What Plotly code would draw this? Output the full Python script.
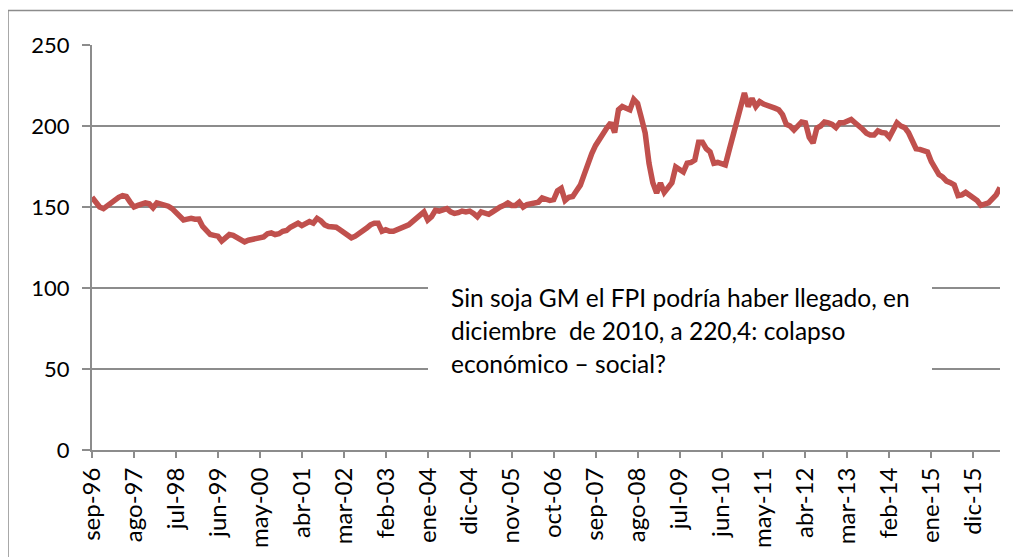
import plotly.graph_objects as go

MONTHS = ["ene", "feb", "mar", "abr", "may", "jun", "jul", "ago", "sep", "oct", "nov", "dic"]

# Monthly values, sep-96 .. jul-16
values = [
    156, 153, 150, 149, 151, 152.5, 154, 156, 157, 156.5, 153, 150,
    151, 151.5, 152.5, 152, 149.5, 152.5, 152, 151, 150.5, 149, 147, 145,
    142, 142.5, 143, 142.5, 142.6, 138, 135, 133, 132.5, 132, 129, 131.5,
    133, 132.5, 131, 129.5, 128.5, 129.5, 130, 130.5, 131, 131.5, 133.5, 134,
    133, 133.5, 135, 135.5, 137.5, 139, 140, 138.5, 139.5, 141, 140, 143,
    141.5, 139, 138, 138, 137.5, 136, 134.5, 133.5, 131, 132, 133.5, 134.5,
    137, 139, 140, 140, 135, 136, 135, 135, 136, 137, 137.5, 139,
    141, 143.5, 145, 147, 142, 144, 148, 147.5, 148, 149, 147, 146,
    146.5, 147.5, 147, 147.5, 146, 144, 147, 146, 145.5, 147, 149, 150,
    151, 152.5, 151, 151, 153, 150, 151.5, 152, 152, 153, 155.6, 155,
    154, 154.5, 160, 161.5, 154, 156, 156.5, 160, 163.5, 170, 177, 183,
    188, 192, 195, 199, 202, 196, 210, 212, 211, 210, 216.5, 214,
    205, 195.6, 177, 165, 158.6, 164.8, 159, 162, 165, 174.7, 173, 171.6,
    177, 177.5, 179, 190, 190, 186, 184, 177, 177.5, 177, 176, 185,
    194, 205, 212, 220.4, 212, 217, 212, 215, 213.6, 213, 212, 211,
    210, 207, 201, 200, 197.5, 200, 202.5, 202, 193, 189.5, 198.7, 200,
    202.5, 202, 201, 199, 202, 202, 203, 204, 202, 200.5, 198, 195.6,
    194.5, 194.4, 197, 196, 195.6, 193, 198, 202, 200, 199, 196, 190,
    186, 185.6, 185, 184, 178, 174.7, 170, 168.5, 166, 165, 163.6, 157,
    157.5, 159, 157.5, 155.6, 154, 151, 151.5, 152.5, 155, 157.5, 162,
]

start_year, start_month = 1996, 9
labels = []
for k in range(len(values)):
    m = (start_month - 1 + k) % 12
    y = start_year + (start_month - 1 + k) // 12
    labels.append(f"{MONTHS[m]}-{y % 100:02d}")

idx = list(range(len(values)))
tick_idx = idx[::11]
tick_text = [labels[i] for i in tick_idx]

y_ticks = [0, 50, 100, 150, 200, 250]

note_lines = [
    "Sin soja GM el FPI podría haber llegado, en",
    "diciembre  de 2010, a 220,4: colapso",
    "económico – social?",
]

FONT = "Lato"
GRID = "#8c8c8c"

fig = go.Figure()
fig.add_trace(go.Scatter(
    x=idx, y=values, mode="lines",
    line=dict(color="#C0504D", width=5.5),
    hovertext=labels, showlegend=False,
))

# page body has an 8px margin: work in screen pixels, convert to figure pixels
OFF = 8
W, H = 1021 - OFF, 557 - OFF
L, R, T, B = 92 - OFF, 1000 - OFF, 45 - OFF, 450 - OFF
pw, ph = R - L, B - T

def px(xs):
    return (xs - OFF - L) / pw

def py(ys):
    return (B - (ys - OFF)) / ph

fig.update_layout(
    width=W, height=H,
    margin=dict(l=L, r=W - R, t=T, b=H - B),
    paper_bgcolor="white", plot_bgcolor="white",
    font=dict(family=FONT, size=22, color="black"),
    showlegend=False,
    xaxis=dict(
        range=[0, len(values) - 1],
        tickmode="array", tickvals=tick_idx, ticktext=tick_text,
        tickangle=-90, ticks="outside", ticklen=6, tickcolor=GRID, tickwidth=1.5,
        showline=True, linecolor=GRID, linewidth=2,
        showgrid=False, zeroline=False,
        tickfont=dict(family=FONT, size=24, color="black"),
        automargin=False,
    ),
    yaxis=dict(
        range=[0, 250],
        tickmode="array", tickvals=y_ticks,
        ticks="outside", ticklen=8, tickcolor=GRID, tickwidth=1.5,
        ticklabelstandoff=8,
        showline=True, linecolor=GRID, linewidth=2,
        showgrid=True, gridcolor=GRID, gridwidth=2,
        zeroline=False,
        tickfont=dict(family=FONT, size=22, color="black"),
        automargin=False,
    ),
)

# outer chart border
fig.add_shape(type="rect", xref="paper", yref="paper",
              x0=px(8), x1=px(1030), y0=py(570), y1=py(10.5),
              line=dict(color="#8c8c8c", width=1.5), fillcolor="rgba(0,0,0,0)",
              layer="above")
# white box behind the note (drawn above the grid; the line never enters it)
fig.add_shape(type="rect", xref="paper", yref="paper",
              x0=px(428), x1=px(932), y0=py(385), y1=py(270),
              line=dict(width=0), fillcolor="white", layer="above")

for txt, yc in zip(note_lines, [297, 330, 363]):
    fig.add_annotation(xref="paper", yref="paper", x=px(449), y=py(yc),
                       text=txt, showarrow=False, xanchor="left", yanchor="middle",
                       font=dict(family=FONT, size=24.5, color="black"))

fig.write_html("out.html")
